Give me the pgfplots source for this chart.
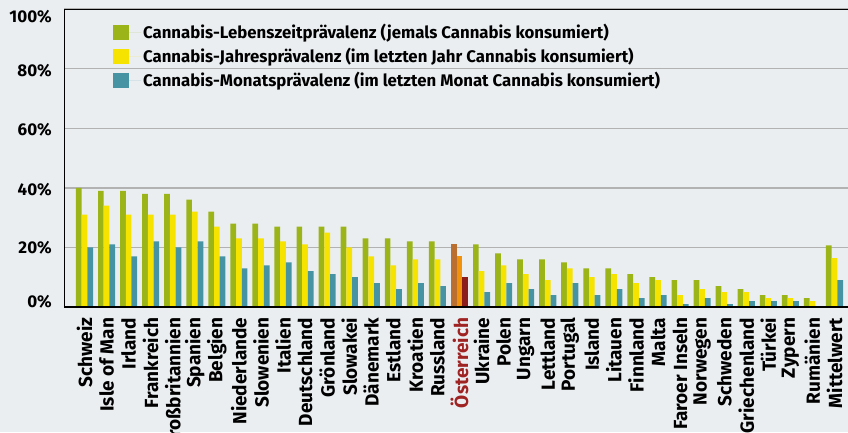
\documentclass[border=0pt]{standalone}
\usepackage{fontspec}
\setmainfont{Fira Sans}
\usepackage{pgfplots}
\pgfplotsset{compat=1.18}
\definecolor{bgc}{RGB}{234,238,241}
\definecolor{cL}{RGB}{155,181,25}
\definecolor{cJ}{RGB}{247,227,0}
\definecolor{cM}{RGB}{70,148,163}
\definecolor{oL}{RGB}{186,110,48}
\definecolor{oJ}{RGB}{242,146,10}
\definecolor{oM}{RGB}{140,28,28}
\definecolor{oText}{RGB}{160,35,35}
\newcommand{\yl}[2]{\smash{\raisebox{#1}{#2}}}
\begin{document}
\begin{tikzpicture}
\fill[bgc] (-64pt,-125pt) rectangle (784pt,307pt);
\begin{axis}[
  at={(0pt,0pt)}, anchor=south west,
  scale only axis, width=791pt, height=298pt,
  ymin=0, ymax=100, xmin=-0.93, xmax=34.93,
  ytick={0,20,40,60,80,100},
  yticklabels={\yl{-0.5pt}{0\%},\yl{-6pt}{20\%},\yl{-7.5pt}{40\%},\yl{-7.5pt}{60\%},\yl{-8pt}{80\%},\yl{-13pt}{100\%}},
  xtick={0,...,34},
  xticklabels={Schweiz,Isle of Man,Irland,Frankreich,Großbritannien,Spanien,Belgien,Niederlande,Slowenien,Italien,Deutschland,Grönland,Slowakei,Dänemark,Estland,Kroatien,Russland,\textcolor{oText}{Österreich},Ukraine,Polen,Ungarn,Lettland,Portugal,Island,Litauen,Finnland,Malta,Faroer Inseln,Norwegen,Schweden,Griechenland,Türkei,Zypern,Rumänien,Mittelwert},
  xticklabel style={yshift=-10.5pt, rotate=90, anchor=east, inner sep=0pt, font=\fontsize{19}{20}\selectfont\bfseries},
  yticklabel style={font=\fontsize{17}{17}\selectfont\bfseries, inner sep=0pt, xshift=-12pt},
  major tick length=0pt,
  ymajorgrids, major grid style={draw=black!30, line width=1.4pt},
  axis line style={black, line width=0.8pt},
  ybar, bar width=5.7pt,
  legend style={draw=none, fill=none, at={(rel axis cs:0.058,0.962)}, anchor=north west,
    font=\fontsize{16.8}{17}\selectfont\bfseries, row sep=4pt,
    legend cell align=left},
  legend image code/.code={\path (0pt,0pt) -- (28pt,0pt);\fill[#1,draw=none] (0pt,-7.5pt) rectangle (16pt,7.5pt);},
]
\addplot[fill=cL, draw=none, bar shift=-5.7pt] coordinates {
(0,40) (1,39) (2,39) (3,38) (4,38) (5,36) (6,32) (7,28) (8,28) (9,27) (10,27) (11,27) (12,27) (13,23) (14,23) (15,22) (16,22)
(18,21) (19,18) (20,16) (21,16) (22,15) (23,13) (24,13) (25,11) (26,10) (27,9) (28,9) (29,7) (30,6) (31,4) (32,4) (33,3) (34,20.7)};
\addlegendentry{Cannabis-Lebenszeitprävalenz (jemals Cannabis konsumiert)}
\addplot[fill=cJ, draw=none, bar shift=0pt] coordinates {
(0,31) (1,34) (2,31) (3,31) (4,31) (5,32) (6,27) (7,23) (8,23) (9,22) (10,21) (11,25) (12,20) (13,17) (14,14) (15,16) (16,16)
(18,12) (19,14) (20,11) (21,9) (22,13) (23,10) (24,11) (25,8) (26,9) (27,4) (28,6) (29,5) (30,5) (31,3) (32,3) (33,2) (34,16.4)};
\addlegendentry{Cannabis-Jahresprävalenz (im letzten Jahr Cannabis konsumiert)}
\addplot[fill=cM, draw=none, bar shift=5.7pt] coordinates {
(0,20) (1,21) (2,17) (3,22) (4,20) (5,22) (6,17) (7,13) (8,14) (9,15) (10,12) (11,11) (12,10) (13,8) (14,6) (15,8) (16,7)
(18,5) (19,8) (20,6) (21,4) (22,8) (23,4) (24,6) (25,3) (26,4) (27,1) (28,3) (29,1) (30,2) (31,2) (32,2) (34,9.0)};
\addlegendentry{Cannabis-Monatsprävalenz (im letzten Monat Cannabis konsumiert)}
\addplot[fill=oL, draw=none, bar shift=-5.7pt, forget plot] coordinates {(17,21)};
\addplot[fill=oJ, draw=none, bar shift=0pt, forget plot] coordinates {(17,17)};
\addplot[fill=oM, draw=none, bar shift=5.7pt, forget plot] coordinates {(17,10)};
\draw[black, line width=2pt] (rel axis cs:0,0) -- (rel axis cs:1,0);
\end{axis}
\pgfresetboundingbox
\useasboundingbox (-64pt,-125pt) rectangle (784pt,307pt);
\end{tikzpicture}
\end{document}
